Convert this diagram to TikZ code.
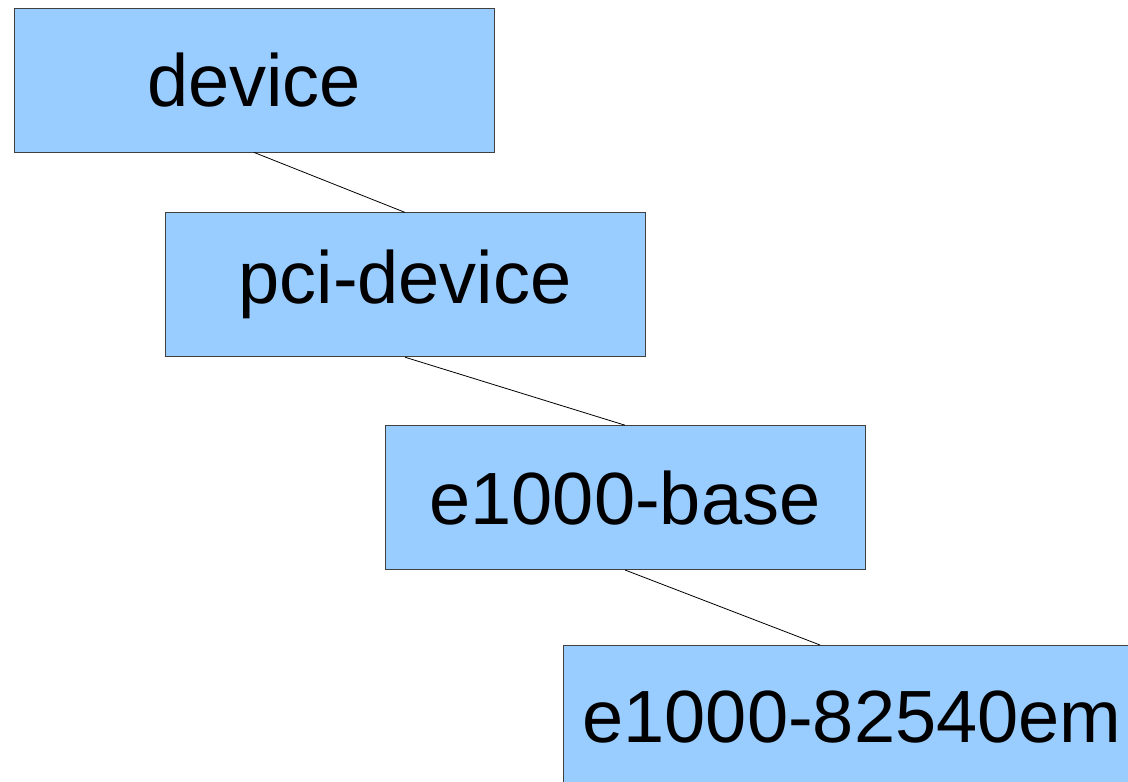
\documentclass[tikz,border=0pt]{standalone}
\usepackage{fontspec}
\setmainfont{Liberation Sans}
\usetikzlibrary{positioning}
\definecolor{boxblue}{HTML}{99CCFF}

\begin{document}
\begin{tikzpicture}[
            node distance = 60pt,
            box/.style = {draw=black!75,line width=0.8pt,fill=boxblue,
                minimum width=480pt,minimum height=144pt,inner sep=0pt,
                font=\fontsize{74}{80}\selectfont},
            link/.style = {line width=0.8pt}]
            \clip (0pt,0pt) rectangle (1128pt,-782pt);
            \node[box] (device) at (254pt,-80pt) {device};
            \node[box,below=60pt of device,xshift=151pt] (pcidev) {pci-device};
            \node[box,below=68pt of pcidev,xshift=220pt] (e1000base) {e1000-base};
            \node[box,below=75pt of e1000base,xshift=227pt,
                minimum width=578pt] (e1000em) {e1000-82540em};
            \draw[link] (device.south) -- (pcidev.north);
            \draw[link] (pcidev.south) -- (e1000base.north);
            \draw[link] (e1000base.south) -- ([xshift=-32pt]e1000em.north);
        \end{tikzpicture}
\end{document}
